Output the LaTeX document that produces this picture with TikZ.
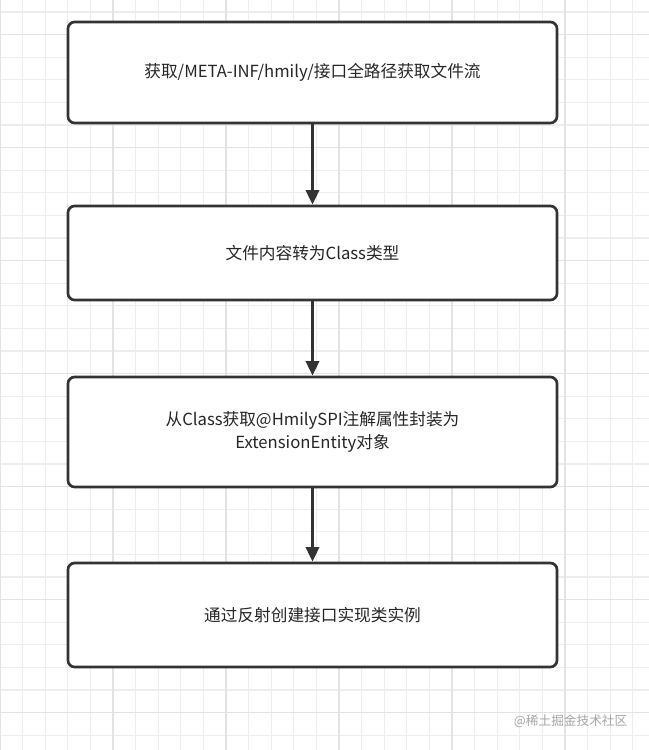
\documentclass[tikz,border=0pt]{standalone}
\usepackage{fontspec}
\setmainfont{Noto Sans CJK SC}
\usetikzlibrary{arrows.meta}
\begin{document}
\begin{tikzpicture}[x=0.75pt,y=-0.75pt,
  box/.style={draw=black!80,line width=2pt,rounded corners=5pt,fill=white,align=center,font=\fontsize{12.5}{17}\selectfont,text=black!85},
  arr/.style={draw=black!80,line width=2pt,-{Triangle[length=11pt,width=10pt]}}]
\useasboundingbox (0,0) rectangle (649,750);
\fill[white] (0,0) rectangle (649,750);
\foreach \i in {0,...,29}{
  \pgfmathsetmacro\xx{22.6*\i}
  \draw[black!7,line width=0.8pt] (\xx,0) -- (\xx,750);
}
\foreach \i in {0,...,34}{
  \pgfmathsetmacro\yy{12+22.6*\i}
  \draw[black!7,line width=0.8pt] (0,\yy) -- (649,\yy);
}
\foreach \i in {0,...,5}{
  \pgfmathsetmacro\xx{113*\i}
  \draw[black!11,line width=1pt] (\xx,0) -- (\xx,750);
}
\foreach \i in {0,...,6}{
  \pgfmathsetmacro\yy{34.6+113*\i}
  \draw[black!11,line width=1pt] (0,\yy) -- (649,\yy);
}
\node[box,minimum width=489*0.75pt,minimum height=101*0.75pt] (a) at (312.5,72.5) {获取/META-INF/hmily/接口全路径获取文件流};
\node[box,minimum width=489*0.75pt,minimum height=94*0.75pt] (b) at (312.5,253) {文件内容转为Class类型};
\node[box,minimum width=489*0.75pt,minimum height=110*0.75pt] (c) at (312.5,432) {从Class获取@HmilySPI注解属性封装为\\ExtensionEntity对象};
\node[box,minimum width=489*0.75pt,minimum height=104*0.75pt] (d) at (312.5,615) {通过反射创建接口实现类实例};
\draw[arr] (a) -- (b);
\draw[arr] (b) -- (c);
\draw[arr] (c) -- (d);
\node[text=black!35,font=\fontsize{9.5}{11}\selectfont,anchor=east] (w) at (632,721) {@稀土掘金技术社区};
\end{tikzpicture}
\end{document}
